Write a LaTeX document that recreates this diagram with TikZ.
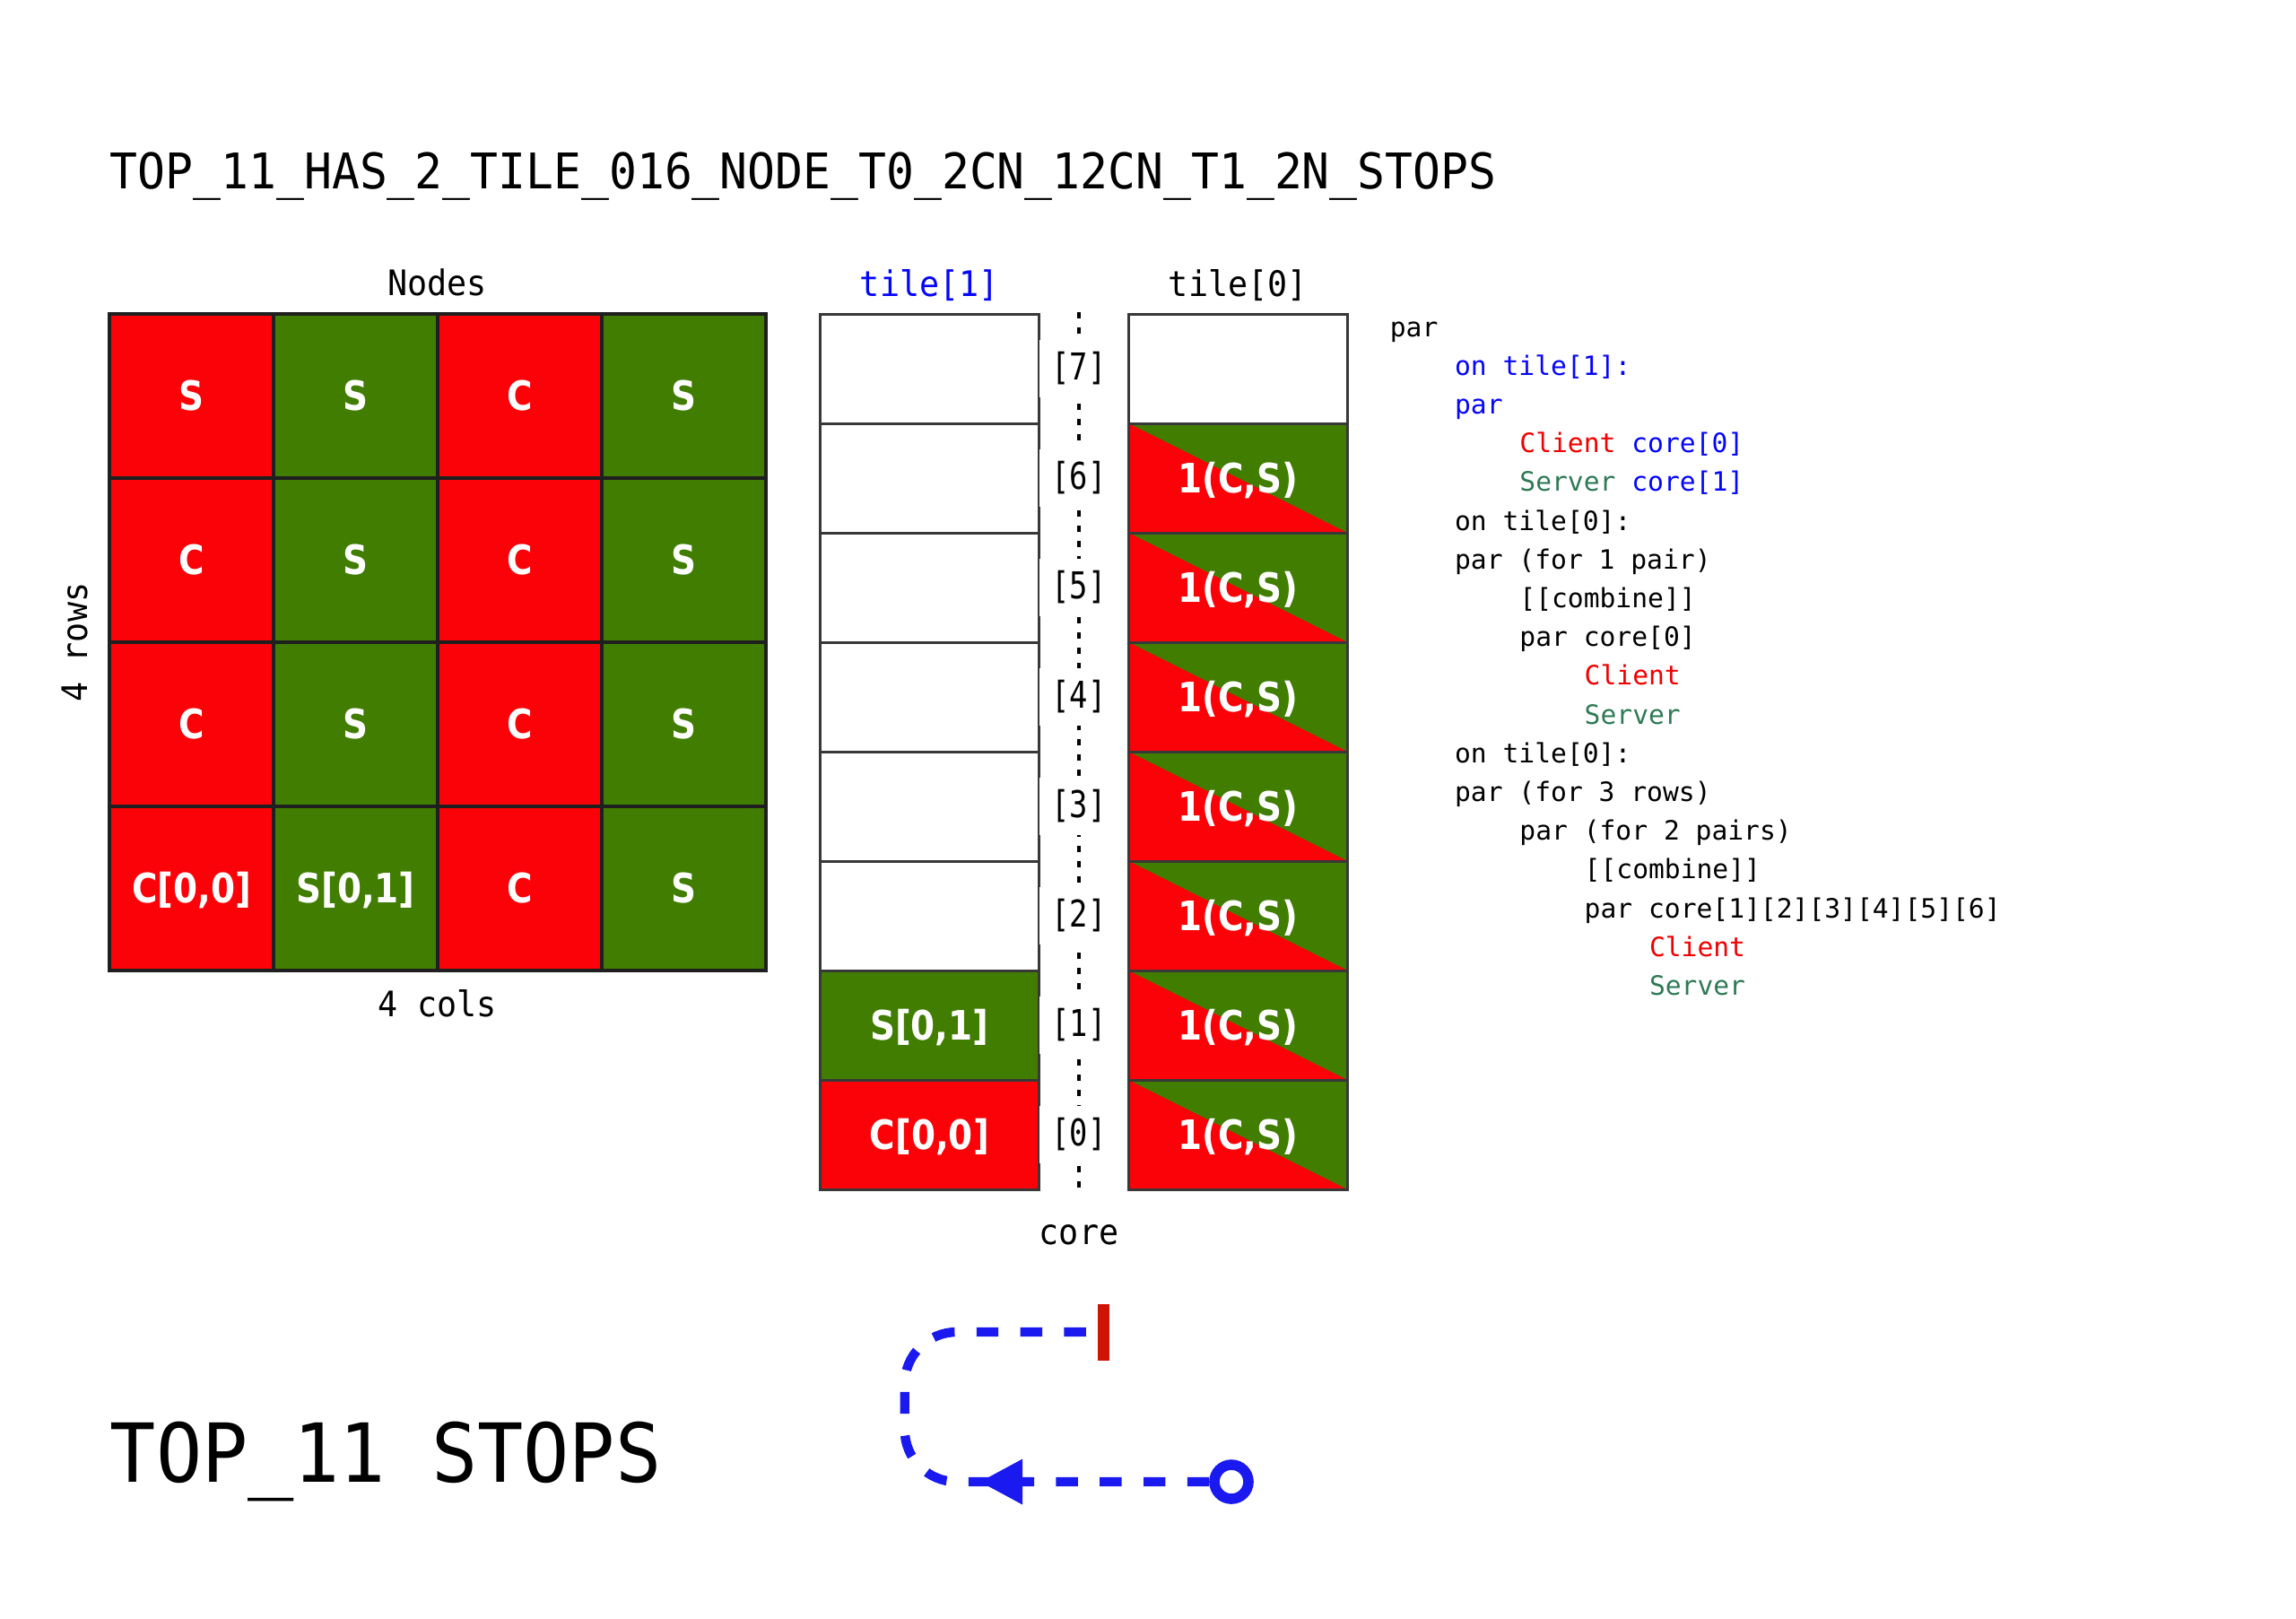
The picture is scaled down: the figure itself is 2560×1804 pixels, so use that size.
\documentclass[tikz,border=0pt]{standalone}
\usepackage{fontspec}
\usetikzlibrary{arrows.meta,decorations.markings}
\newfontfamily\titlefont[FakeStretch=0.937]{DejaVu Sans Mono}
\newfontfamily\idxfont[FakeStretch=0.82]{DejaVu Sans Mono}
\newfontfamily\codefont{DejaVu Sans Mono}
\newfontfamily\cellfont[FakeStretch=0.86]{DejaVu Sans}
\definecolor{cred}{RGB}{250,2,8}
\definecolor{cgreen}{RGB}{64,125,0}
\definecolor{cblue}{RGB}{5,5,250}
\definecolor{ccli}{RGB}{240,0,0}
\definecolor{csrv}{RGB}{46,122,84}
\definecolor{cflow}{RGB}{25,25,240}
\definecolor{cstop}{RGB}{205,20,5}
\tikzset{
  cell/.style={draw=black!88,line width=1.1pt,minimum width=45.75pt,minimum height=45.75pt,
    inner sep=0pt,text=white,font=\cellfont\bfseries\fontsize{11.3}{13}\selectfont,
    text height=8.2pt,text depth=0pt},
  slot/.style={draw=black!78,line width=0.75pt,minimum width=61pt,minimum height=30.5pt,
    inner sep=0pt,text=white,font=\cellfont\bfseries\fontsize{11.3}{13}\selectfont,
    text height=8.2pt,text depth=0pt},
  pair/.style={slot,fill=cgreen,path picture={
    \fill[cred] (path picture bounding box.north west) -- (path picture bounding box.south east)
      -- (path picture bounding box.south west) -- cycle;}},
  lbl/.style={font=\titlefont\fontsize{9.8}{12}\selectfont,anchor=base,inner sep=0pt},
  idx/.style={font=\idxfont\fontsize{10.3}{12}\selectfont,fill=white},
  code/.style={font=\codefont\fontsize{7.41}{9}\selectfont,anchor=base west,inner sep=0pt},
  ring/.style={circle,draw=cflow,fill=white,line width=2.9pt,minimum size=9.5pt,inner sep=0pt},
  bar/.style={fill=cstop,minimum width=3.25pt,minimum height=15.75pt,inner sep=0pt},
  coreline/.style={line width=1pt,dash pattern=on 1.75pt off 2.5pt},
  flow/.style={color=cflow,line width=2.6pt,dash pattern=on 6.1pt off 6.1pt,rounded corners=14.5pt,
    postaction={decorate},decoration={markings,
      mark=at position 64pt with {\arrow{Triangle[length=12pt,width=12pt]}}}},
}
\begin{document}
\begin{tikzpicture}[x=0.25pt,y=-0.25pt]
    \useasboundingbox (0,0) rectangle (2560,1804);
    %% Title
    \node[anchor=base west,inner sep=0pt,font=\titlefont\fontsize{13.7}{16}\selectfont] (title) at (122,210)
        {TOP\_11\_HAS\_2\_TILE\_016\_NODE\_T0\_2CN\_12CN\_T1\_2N\_STOPS};
    %% Nodes grid
    \foreach \r/\c/\f/\t in {0/0/cred/S,0/1/cgreen/S,0/2/cred/C,0/3/cgreen/S,
                             1/0/cred/C,1/1/cgreen/S,1/2/cred/C,1/3/cgreen/S,
                             2/0/cred/C,2/1/cgreen/S,2/2/cred/C,2/3/cgreen/S,
                             3/0/cred/{C[0,0]},3/1/cgreen/{S[0,1]},3/2/cred/C,3/3/cgreen/S}
        \node[cell,fill=\f] (n\r\c) at ({213.5+183*\c},{441.5+183*\r}) {\t};
    \node[lbl] (nodes) at (487.5,329) {Nodes};
    \node[lbl] (cols) at (487.5,1133) {4 cols};
    \node[lbl,rotate=90] (rows) at (97,716) {4 rows};
    %% tile[1]
    \node[lbl,text=cblue] (t1) at (1036.3,330) {tile[1]};
    \node[slot,fill=cred] (a0) at (1036.3,1265) {C[0,0]};
    \node[slot,fill=cgreen] (a1) at (1036.3,1143) {S[0,1]};
    \foreach \k in {2,...,7}
        \node[slot] (a\k) at (1036.3,{411+122*(7-\k)}) {};
    %% tile[0]
    \node[lbl] (t0) at (1380.3,330) {tile[0]};
    \foreach \k in {0,...,6}
        \node[pair] (b\k) at (1380.3,{411+122*(7-\k)}) {1(C,S)};
    \node[slot] (b7) at (1380.3,411) {};
    %% Cores
    \coordinate (ctop) at (1203,348);
    \coordinate (cbot) at (1203,1331);
    \draw[coreline] (ctop) -- (cbot);
    \foreach \k in {0,...,7}
        \node[idx] (c\k) at (1203,{411+122*(7-\k)}) {[\k]};
    \node[lbl] (core) at (1203,1387) {core};
    %% Code
    \foreach \l/\t [count=\i from 0] in {
        0/par,
        1/{\color{cblue}on tile[1]:},
        1/{\color{cblue}par},
        2/{\textcolor{ccli}{Client} \textcolor{cblue}{core[0]}},
        2/{\textcolor{csrv}{Server} \textcolor{cblue}{core[1]}},
        1/on tile[0]:,
        1/par (for 1 pair),
        2/[[combine]],
        2/par core[0],
        3/{\color{ccli}Client},
        3/{\color{csrv}Server},
        1/on tile[0]:,
        1/par (for 3 rows),
        2/par (for 2 pairs),
        3/[[combine]],
        3/par core[1][2][3][4][5][6],
        4/{\color{ccli}Client},
        4/{\color{csrv}Server}}
        \node[code] (code\i) at ({1549+72.3*\l},{375+43.2*\i}) {\t};
    %% Stops
    \node[anchor=base west,inner sep=0pt,font=\titlefont\fontsize{22.7}{28}\selectfont] (stops) at (122,1652)
        {TOP\_11 STOPS};
    \node[ring] (start) at (1373,1652) {};
    \node[bar] (stop) at (1230,1485) {};
    \coordinate (bl) at (1008.7,1652);
    \coordinate (tl) at (1008.7,1485);
    \draw[flow] (start.west) -- (bl) -- (tl) -- (stop.west);
\end{tikzpicture}
\end{document}
